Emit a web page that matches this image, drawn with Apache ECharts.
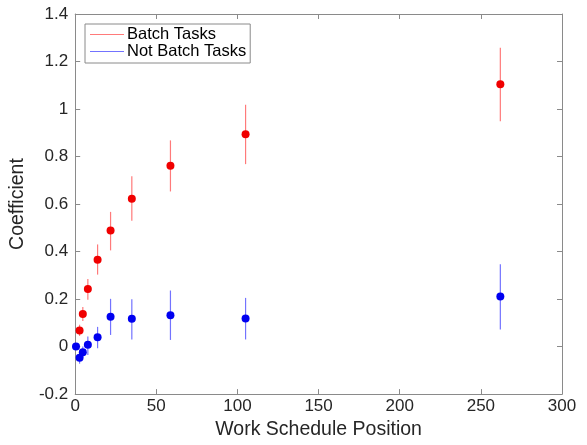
<!DOCTYPE html>
<html><head><meta charset="utf-8">
<script src="https://cdn.jsdelivr.net/npm/echarts@6/dist/echarts.min.js"></script>
<style>html,body{margin:0;padding:0;background:#fff}#c{width:587px;height:445px}</style>
</head><body><div id="c"></div>
<script>
// Data
var batchX     = [2.7, 4.7, 7.8, 13.8, 21.8, 34.9, 58.7, 105, 262];
var batchY     = [0.068, 0.137, 0.242, 0.366, 0.489, 0.622, 0.761, 0.894, 1.104];
var batchLow   = [0.045, 0.108, 0.197, 0.303, 0.405, 0.530, 0.653, 0.768, 0.949];
var batchHigh  = [0.092, 0.167, 0.285, 0.430, 0.567, 0.717, 0.868, 1.018, 1.258];

var notX    = [0.5, 2.7, 4.7, 7.8, 13.8, 21.8, 34.9, 58.7, 105, 262];
var notY    = [0.0, -0.047, -0.024, 0.008, 0.039, 0.126, 0.117, 0.132, 0.118, 0.211];
var notLow  = [0.0, -0.072, -0.046, -0.035, -0.007, 0.049, 0.030, 0.028, 0.030, 0.072];
var notHigh = [0.0, -0.028, 0.000, 0.042, 0.083, 0.201, 0.199, 0.236, 0.205, 0.347];

var xTicks = [0, 50, 100, 150, 200, 250, 300];
var yTicks = [-0.2, 0, 0.2, 0.4, 0.6, 0.8, 1, 1.2, 1.4];

var RED = '#f00000', BLUE = '#0000f0';
var RED_BAR = '#ff7a7a', BLUE_BAR = '#7373ff';
var FONT = '"Liberation Sans", Arial, Helvetica, sans-serif';
var AX = '#8a8a8a', TXT = '#262626';

function pts(xs, ys) { return xs.map(function (x, i) { return [x, ys[i]]; }); }
function bars(xs, lo, hi) { return xs.map(function (x, i) { return [x, lo[i], hi[i]]; }); }

function errRender(color) {
  return function (params, api) {
    var a = api.coord([api.value(0), api.value(1)]);
    var b = api.coord([api.value(0), api.value(2)]);
    return { type: 'line', shape: { x1: a[0], y1: a[1], x2: b[0], y2: b[1] },
      style: { stroke: color, lineWidth: 1.2 } };
  };
}

var axisCommon = {
  type: 'value', splitLine: { show: false },
  axisLine: { show: true, onZero: false, lineStyle: { color: AX, width: 1 } },
  axisTick: { show: true, inside: true, length: 5, lineStyle: { color: AX } }
};

var option = {
  animation: false,
  backgroundColor: '#fff',
  grid: { left: 73, right: 25, top: 14, bottom: 46.5, containLabel: false },
  xAxis: [
    Object.assign({}, axisCommon, {
      position: 'bottom', min: xTicks[0], max: xTicks[xTicks.length - 1], interval: 50,
      axisLabel: { color: TXT, fontSize: 17, fontFamily: FONT, margin: 4 },
      name: 'Work Schedule Position', nameLocation: 'middle', nameGap: 22,
      nameTextStyle: { color: TXT, fontSize: 19.5, fontFamily: FONT }
    }),
    Object.assign({}, axisCommon, {
      position: 'top', min: xTicks[0], max: xTicks[xTicks.length - 1], interval: 50,
      axisLabel: { show: false }
    })
  ],
  yAxis: [
    Object.assign({}, axisCommon, {
      position: 'left', min: yTicks[0], max: yTicks[yTicks.length - 1], interval: 0.2,
      axisLabel: { color: TXT, fontSize: 17, fontFamily: FONT, margin: 7,
        formatter: function (v) { return String(+v.toFixed(1)); } },
      name: 'Coefficient', nameLocation: 'middle', nameGap: 43,
      nameTextStyle: { color: TXT, fontSize: 19.5, fontFamily: FONT }
    }),
    Object.assign({}, axisCommon, {
      position: 'right', min: yTicks[0], max: yTicks[yTicks.length - 1], interval: 0.2,
      axisLabel: { show: false }
    })
  ],
  legend: {
    left: 85, top: 24, orient: 'vertical',
    backgroundColor: '#fff', borderColor: '#8a8a8a', borderWidth: 1, borderRadius: 0,
    padding: [2, 4, 3, 5], itemGap: 0, itemWidth: 34, itemHeight: 1.2,
    icon: 'rect',
    textStyle: { color: '#000', fontSize: 16.5, lineHeight: 17, fontFamily: FONT, padding: [0, 0, 0, -2] },
    data: [
      { name: 'Batch Tasks', itemStyle: { color: RED_BAR } },
      { name: 'Not Batch Tasks', itemStyle: { color: BLUE_BAR } }
    ]
  },
  series: [
    { name: 'Batch Tasks', type: 'custom', renderItem: errRender(RED_BAR),
      encode: { x: 0, y: [1, 2] }, data: bars(batchX, batchLow, batchHigh), z: 2,
      itemStyle: { color: RED_BAR } },
    { name: 'Not Batch Tasks', type: 'custom', renderItem: errRender(BLUE_BAR),
      encode: { x: 0, y: [1, 2] }, data: bars(notX, notLow, notHigh), z: 2,
      itemStyle: { color: BLUE_BAR } },
    { name: 'Batch Tasks', type: 'scatter', symbol: 'circle', symbolSize: 8,
      itemStyle: { color: RED, opacity: 1 }, data: pts(batchX, batchY), z: 3 },
    { name: 'Not Batch Tasks', type: 'scatter', symbol: 'circle', symbolSize: 8,
      itemStyle: { color: BLUE, opacity: 1 }, data: pts(notX, notY), z: 4 }
  ]
};

var chart = echarts.init(document.getElementById('c'), null, { renderer: 'canvas' });
chart.setOption(option);
</script></body></html>
